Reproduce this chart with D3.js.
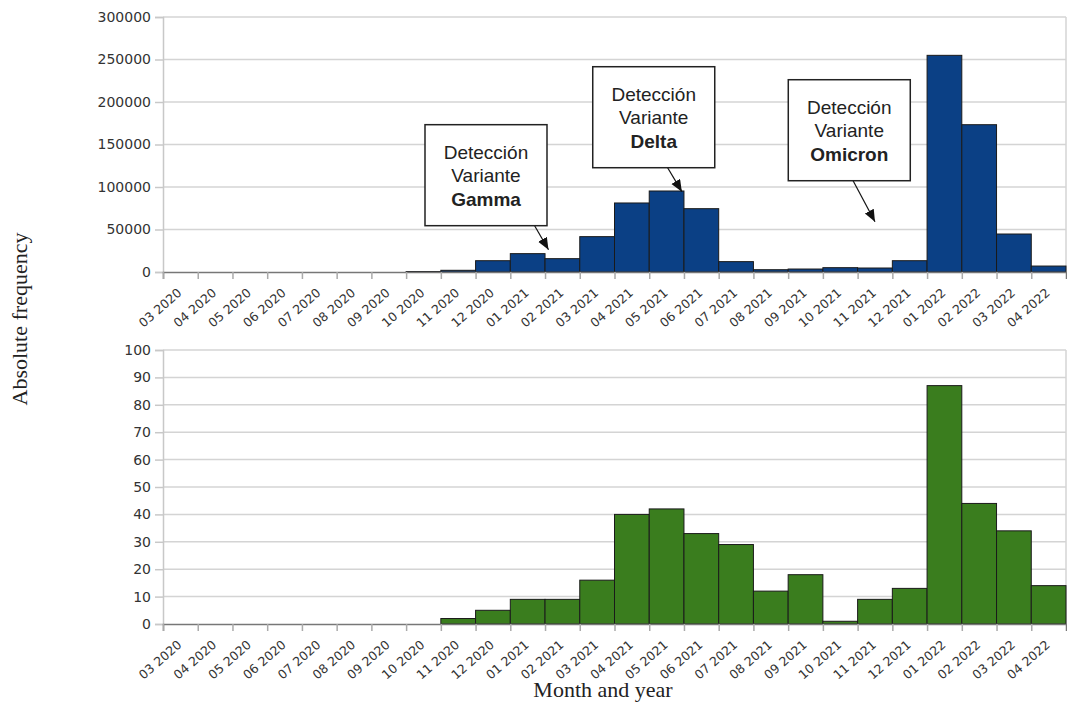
<!DOCTYPE html>
<html>
<head>
<meta charset="utf-8">
<script src="https://cdn.jsdelivr.net/npm/d3@7"></script>
<style>
  body { margin: 0; background: #fff; }
  svg { display: block; }
</style>
</head>
<body>
<div id="chart"></div>
<script>
// month labels (bin starts)
const months = [
  "03 2020", "04 2020", "05 2020", "06 2020", "07 2020", "08 2020", "09 2020",
  "10 2020", "11 2020", "12 2020", "01 2021", "02 2021", "03 2021", "04 2021",
  "05 2021", "06 2021", "07 2021", "08 2021", "09 2021", "10 2021", "11 2021",
  "12 2021", "01 2022", "02 2022", "03 2022", "04 2022"
];

// top panel: cases per month
const casesValues = [
  0, 0, 0, 0, 0, 0, 0, 500, 2000, 13300, 21600, 15700, 41600, 81200,
  95300, 74500, 12200, 2700, 3500, 5100, 4700, 13300, 254900, 173300, 44700, 7000
];
const casesTicks = [0, 50000, 100000, 150000, 200000, 250000, 300000];

// bottom panel: sequenced samples per month
const samplesValues = [
  0, 0, 0, 0, 0, 0, 0, 0, 2, 5, 9, 9, 16, 40,
  42, 33, 29, 12, 18, 1, 9, 13, 87, 44, 34, 14
];
const samplesTicks = [0, 10, 20, 30, 40, 50, 60, 70, 80, 90, 100];

// annotations: box centre (month index, value), arrow start x and tip (month index, value)
const annotLines = [
  ["Detección", "Variante", "Gamma"],
  ["Detección", "Variante", "Delta"],
  ["Detección", "Variante", "Omicron"]
];
const annotBoxX = [9.3, 14.13, 19.76];
const annotBoxY = [113900, 182100, 166800];
const annotFromX = [10.7, 14.53, 19.87];
const annotTipX = [11.1, 14.94, 20.5];
const annotTipY = [26200, 94500, 59200];

const width = 1067;
const height = 703;

const svg = d3.select("#chart")
  .append("svg")
  .attr("width", width)
  .attr("height", height);

svg.append("defs")
  .append("marker")
  .attr("id", "arrow")
  .attr("markerUnits", "userSpaceOnUse")
  .attr("markerWidth", 14)
  .attr("markerHeight", 12)
  .attr("refX", 12)
  .attr("refY", 5)
  .attr("orient", "auto")
  .append("path")
  .attr("d", "M0,0 L12,5 L0,10 Z")
  .attr("fill", "#111");

const x = d3.scaleLinear().domain([0, months.length]).range([163, 1066]);

const drawPanel = (values, ticks, color, yTop, yBottom) => {
  const y = d3.scaleLinear()
    .domain([0, ticks[ticks.length - 1]])
    .range([yBottom, yTop]);

  const g = svg.append("g");

  // gridlines
  g.selectAll(".grid")
    .data(ticks.slice(1))
    .enter()
    .append("line")
    .attr("x1", x(0))
    .attr("x2", x(months.length))
    .attr("y1", (d) => y(d))
    .attr("y2", (d) => y(d))
    .attr("stroke", "#d4d4d4")
    .attr("stroke-width", 1.5);

  // right frame edge
  g.append("line")
    .attr("x1", x(months.length))
    .attr("x2", x(months.length))
    .attr("y1", yTop)
    .attr("y2", yBottom)
    .attr("stroke", "#d4d4d4")
    .attr("stroke-width", 1.5);

  // y axis
  const yAxis = g.append("g")
    .attr("transform", `translate(${x(0)},0)`)
    .call(
      d3.axisLeft(y)
        .tickValues(ticks)
        .tickFormat(d3.format("d"))
        .tickSize(8)
        .tickPadding(4)
    );
  yAxis.select(".domain").attr("stroke", "#c8c8c8").attr("stroke-width", 1.5);
  yAxis.selectAll(".tick line").attr("stroke", "#c8c8c8").attr("stroke-width", 1.5);
  yAxis.selectAll(".tick text")
    .attr("fill", "#333")
    .style("font-family", "'DejaVu Sans', sans-serif")
    .style("font-size", "14px");

  // bars
  g.selectAll(".bar")
    .data(values)
    .enter()
    .append("rect")
    .attr("x", (d, i) => x(i))
    .attr("width", (d, i) => x(i + 1) - x(i))
    .attr("y", (d) => y(d))
    .attr("height", (d) => y(0) - y(d))
    .attr("fill", color)
    .attr("stroke", (d) => (d > 0 ? "#1a1a1a" : "none"))
    .attr("stroke-width", 1);

  // x axis
  const xAxis = g.append("g")
    .attr("transform", `translate(0,${yBottom})`)
    .call(
      d3.axisBottom(x)
        .tickValues(d3.range(months.length))
        .tickFormat((i) => months[i])
        .tickSize(7)
    );
  xAxis.select(".domain").attr("stroke", "#777").attr("stroke-width", 1.5);
  xAxis.selectAll(".tick line").attr("stroke", "#aaa").attr("stroke-width", 1.5);
  xAxis.selectAll(".tick text")
    .attr("fill", "#333")
    .attr("text-anchor", "end")
    .attr("dy", 0)
    .attr("y", 0)
    .attr("transform", "translate(19,22) rotate(-41)")
    .style("font-family", "'DejaVu Sans', sans-serif")
    .style("font-size", "12.5px");

  return y;
};

const yCases = drawPanel(casesValues, casesTicks, "#0b4085", 17, 272);
drawPanel(samplesValues, samplesTicks, "#3a7d1e", 350, 624);

// annotations on the top panel
const boxW = 122;
const boxH = 101;
annotLines.forEach((lines, i) => {
  const cx = x(annotBoxX[i]);
  const cy = yCases(annotBoxY[i]);
  const top = cy - boxH / 2;

  svg.append("line")
    .attr("x1", x(annotFromX[i]))
    .attr("y1", top + boxH)
    .attr("x2", x(annotTipX[i]))
    .attr("y2", yCases(annotTipY[i]))
    .attr("stroke", "#111")
    .attr("stroke-width", 1.2)
    .attr("marker-end", "url(#arrow)");

  svg.append("rect")
    .attr("x", cx - boxW / 2)
    .attr("y", top)
    .attr("width", boxW)
    .attr("height", boxH)
    .attr("fill", "#fff")
    .attr("stroke", "#222")
    .attr("stroke-width", 1.5);

  svg.append("g")
    .selectAll("text")
    .data(lines)
    .enter()
    .append("text")
    .attr("x", cx)
    .attr("y", (d, j) => top + 34 + j * 23.5)
    .attr("text-anchor", "middle")
    .attr("fill", "#222")
    .style("font-family", "'Liberation Sans', Arial, sans-serif")
    .style("font-size", "19px")
    .style("font-weight", (d, j) => (j === 2 ? "bold" : "normal"))
    .text((d) => d);
});

// axis titles
svg.append("text")
  .attr("transform", "translate(27,319) rotate(-90)")
  .attr("text-anchor", "middle")
  .attr("fill", "#222")
  .style("font-family", "'Liberation Serif', serif")
  .style("font-size", "22px")
  .text("Absolute frequency");

svg.append("text")
  .attr("x", 603)
  .attr("y", 697)
  .attr("text-anchor", "middle")
  .attr("fill", "#222")
  .style("font-family", "'Liberation Serif', serif")
  .style("font-size", "22px")
  .text("Month and year");
</script>
</body>
</html>
